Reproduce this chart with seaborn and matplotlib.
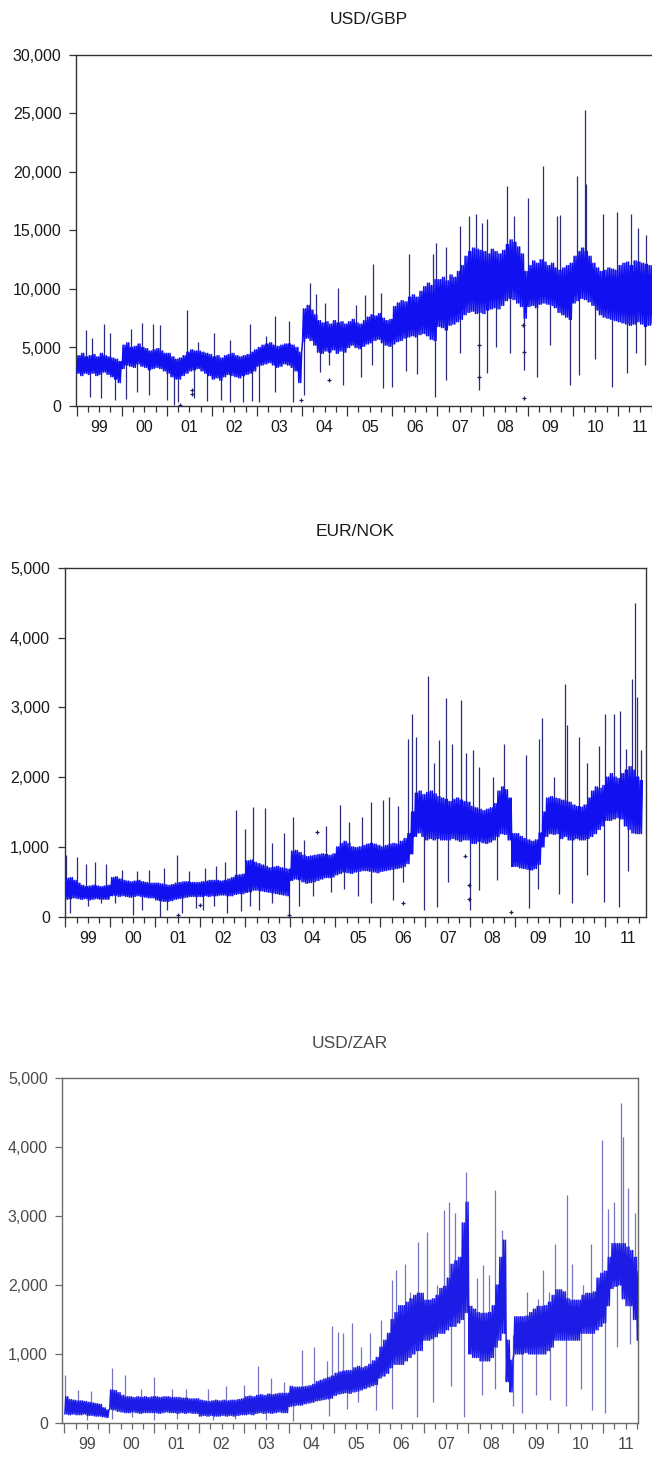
import numpy as np
import pandas as pd
import matplotlib
matplotlib.use("Agg")
import matplotlib.pyplot as plt
import seaborn as sns
from matplotlib.ticker import FuncFormatter

sns.set_theme(style="white")
plt.rcParams["font.family"] = ["Liberation Sans", "DejaVu Sans"]

# ---------------- data (monthly body range, Jan 1999 .. Oct 2011) ----------------
titles = ["USD/GBP", "EUR/NOK", "USD/ZAR"]
year_labels = ["99", "00", "01", "02", "03", "04", "05", "06", "07", "08", "09", "10", "11"]

gbp_lo = [2800, 2600, 2800, 2700, 2800, 2600, 2700, 2900, 2700, 2500, 2300, 2000,
          3200, 3500, 3400, 3300, 3600, 3400, 3300, 3100, 3200, 3300, 3200, 3000,
          2800, 2500, 2300, 2300, 2600, 2800, 3000, 3100, 3200, 3000, 2800, 2600,
          2300, 2400, 2200, 2500, 2700, 2600, 2500, 2400, 2600, 2700, 2800, 3000,
          3400, 3500, 3600, 3700, 3500, 3300, 3400, 3600, 3500, 3300, 3000, 2000,
          5500, 5800, 5600, 5200, 4600, 4500, 4700, 4600, 4800, 4500, 4700, 4600,
          5000, 5200, 5000, 4900, 5100, 5300, 5400, 5600, 5700, 5400, 5200, 5100,
          5300, 5500, 5600, 5800, 5900, 6000, 5900, 6100, 6200, 6000, 5700, 5600,
          6800, 6700, 6500, 6900, 7000, 7200, 7400, 7800, 8000, 8100, 7900, 8000,
          7900, 8200, 8300, 8400, 8300, 8600, 9000, 9200, 9100, 8800, 8500, 7500,
          8500, 8600, 8400, 8700, 8800, 8700, 8600, 8400, 8000, 7800, 7600, 7400,
          8800, 9000, 9200, 9100, 8900, 8600, 8200, 7800, 7600, 7500, 7400, 7300,
          7200, 7100, 7000, 6900, 7000, 7200, 7000, 6800, 6900, 7000]
gbp_hi = [4300, 4500, 4200, 4300, 4400, 4200, 4500, 4300, 4200, 4100, 4000, 3800,
          5200, 5400, 5000, 5100, 5300, 5000, 4900, 4700, 4800, 4900, 4700, 4500,
          4500, 4200, 4000, 4100, 4300, 4600, 4800, 4700, 4700, 4600, 4500, 4400,
          4200, 4300, 4100, 4300, 4400, 4500, 4300, 4200, 4300, 4400, 4600, 4800,
          5000, 5200, 5300, 5400, 5200, 5100, 5200, 5300, 5300, 5200, 5000, 4600,
          8300, 8600, 8200, 7800, 7300, 7100, 7200, 7000, 7300, 7100, 7200, 7000,
          7200, 7400, 7100, 7000, 7300, 7600, 7800, 7700, 7900, 7500, 7300, 7400,
          8500, 8800, 9000, 8900, 9300, 9500, 9300, 9800, 10200, 10500, 10300, 10800,
          10800, 11000, 10700, 11200, 11000, 11500, 12000, 12800, 13200, 13500, 13400, 13300,
          13200, 13000, 13400, 13200, 13000, 13300, 13800, 14200, 14000, 13600, 13000, 11500,
          12000, 12400, 12200, 12500, 12300, 12000, 12200, 11800, 11600, 11800, 12000, 12200,
          12800, 13200, 13500, 13200, 12800, 12200, 11800, 11500, 11600, 11800, 11700, 11600,
          12000, 12200, 12300, 12000, 12400, 12300, 12200, 12100, 12000, 12300]
gbp_up_t = [1999.2, 1999.35, 1999.6, 1999.75, 2000.2, 2000.45, 2000.7, 2000.85, 2001.45, 2001.7,
            2002.05, 2002.4, 2002.85, 2003.2, 2003.4, 2003.7, 2004.17, 2004.3, 2004.5, 2004.8,
            2005.2, 2005.4, 2005.57, 2005.75, 2006.36, 2006.9, 2006.98, 2007.2, 2007.5, 2007.7,
            2007.85, 2007.99, 2008.1, 2008.55, 2008.7, 2009.0, 2009.34, 2009.65, 2009.72, 2010.1,
            2010.27, 2010.29, 2010.67, 2010.98, 2011.29, 2011.45, 2011.62]
gbp_up_v = [6500, 5800, 7000, 6200, 6600, 7100, 7000, 6900, 8200, 5500,
            6200, 5600, 7000, 6000, 7700, 7300, 10500, 9600, 8800, 10100,
            8600, 9500, 12100, 9700, 13000, 13000, 13900, 13600, 15400, 16200,
            16400, 15600, 16000, 18800, 16200, 17800, 20500, 16200, 16300, 19700,
            25300, 19000, 16400, 16600, 16400, 15200, 14600]
gbp_dn_t = [1999.3, 1999.55, 1999.85, 2000.1, 2000.35, 2000.6, 2001.0, 2001.15, 2001.25, 2001.6,
            2001.9, 2002.2, 2002.4, 2002.7, 2002.9, 2003.05, 2003.4, 2003.8, 2004.05, 2004.4,
            2004.6, 2004.9, 2005.3, 2005.55, 2005.8, 2006.0, 2006.3, 2006.55, 2006.95, 2007.2,
            2007.5, 2007.93, 2008.1, 2008.3, 2008.6, 2008.93, 2009.2, 2009.5, 2009.94, 2010.15,
            2010.5, 2010.87, 2011.2, 2011.4, 2011.6]
gbp_dn_v = [800, 700, 500, 600, 1200, 900, 500, 100, 300, 700,
            400, 500, 300, 300, 400, 300, 1200, 300, 900, 2900,
            3500, 1800, 2500, 3500, 1500, 1650, 3000, 2700, 800, 2200,
            4500, 1370, 2800, 5000, 4500, 3080, 2500, 5200, 1800, 2650,
            4000, 1650, 2800, 4500, 3500]
gbp_dot_t = [2001.3, 2001.55, 2001.55, 2003.97, 2004.6, 2007.93, 2007.93, 2008.93, 2008.93, 2008.9]
gbp_dot_v = [100, 1000, 1400, 500, 2200, 2500, 5200, 700, 4600, 6900]

nok_lo = [250, 260, 270, 260, 250, 260, 240, 250, 260, 250, 250, 250,
          300, 310, 290, 300, 290, 280, 290, 300, 290, 280, 270, 270,
          240, 230, 220, 220, 230, 250, 260, 270, 280, 290, 290, 290,
          290, 300, 290, 300, 300, 310, 310, 300, 300, 320, 330, 330,
          350, 360, 380, 380, 370, 360, 350, 340, 330, 320, 310, 300,
          520, 540, 530, 500, 480, 490, 500, 520, 540, 560, 560, 570,
          600, 620, 640, 630, 620, 640, 650, 660, 660, 650, 640, 630,
          650, 660, 670, 680, 690, 700, 720, 760, 900, 1150, 1200, 1150,
          1100, 1120, 1100, 1120, 1100, 1100, 1100, 1120, 1100, 1080, 1100, 1100,
          1050, 1050, 1080, 1060, 1050, 1070, 1100, 1150, 1190, 1180, 1100, 720,
          720, 700, 690, 680, 670, 690, 750, 1000, 1150, 1190, 1180, 1190,
          1120, 1150, 1100, 1100, 1120, 1100, 1100, 1120, 1150, 1190, 1250, 1300,
          1380, 1380, 1400, 1420, 1400, 1300, 1250, 1200, 1190, 1190]
nok_hi = [550, 560, 520, 480, 450, 430, 440, 450, 440, 430, 440, 450,
          560, 570, 540, 520, 510, 500, 510, 520, 500, 490, 480, 480,
          480, 470, 460, 450, 460, 480, 490, 500, 500, 490, 490, 490,
          500, 510, 520, 520, 520, 510, 520, 540, 560, 590, 600, 610,
          800, 810, 780, 760, 740, 720, 700, 710, 720, 700, 690, 680,
          940, 950, 920, 880, 860, 870, 880, 890, 900, 890, 880, 900,
          1000, 1050, 1080, 1050, 1000, 990, 1000, 1020, 1040, 1050, 1040, 1020,
          1000, 1020, 1040, 1050, 1040, 1080, 1120, 1190, 1500, 1770, 1800, 1750,
          1780, 1800, 1760, 1720, 1700, 1680, 1650, 1680, 1700, 1670, 1650, 1640,
          1580, 1560, 1540, 1520, 1540, 1560, 1620, 1800, 1860, 1820, 1700, 1190,
          1190, 1150, 1120, 1100, 1080, 1100, 1200, 1500, 1700, 1720, 1700, 1690,
          1670, 1660, 1640, 1600, 1580, 1570, 1600, 1700, 1800, 1860, 1840, 1880,
          2000, 2050, 2000, 1980, 2050, 2100, 2150, 2100, 2000, 1950]
nok_up_t = [1999.02, 1999.25, 1999.45, 1999.65, 1999.9, 2000.25, 2000.6, 2000.85, 2001.2, 2001.48,
            2001.75, 2002.1, 2002.35, 2002.55, 2002.8, 2003.0, 2003.17, 2003.43, 2003.6, 2003.85,
            2004.07, 2004.3, 2004.8, 2005.1, 2005.3, 2005.6, 2005.8, 2006.05, 2006.2, 2006.4,
            2006.62, 2006.7, 2006.8, 2007.06, 2007.2, 2007.3, 2007.45, 2007.6, 2007.79, 2007.9,
            2008.05, 2008.2, 2008.5, 2008.75, 2009.23, 2009.52, 2009.6, 2009.85, 2010.1, 2010.15,
            2010.42, 2010.6, 2010.85, 2011.0, 2011.2, 2011.33, 2011.45, 2011.6, 2011.67, 2011.7,
            2011.8]
nok_up_v = [880, 860, 760, 780, 760, 670, 650, 670, 700, 880,
            650, 700, 720, 780, 1530, 1250, 1570, 1560, 1050, 1200,
            1430, 1100, 1300, 1600, 1350, 1430, 1650, 1670, 1720, 1580,
            2550, 2910, 2580, 3450, 2200, 2530, 3140, 2470, 3100, 2350,
            2390, 2150, 2000, 2480, 2320, 2550, 2840, 2000, 3330, 2750,
            2580, 2200, 2440, 2900, 2910, 2940, 2400, 3410, 4500, 3150,
            2390]
nok_dn_t = [1999.1, 1999.5, 1999.8, 2000.1, 2000.5, 2000.7, 2001.1, 2001.25, 2001.6, 2001.9,
            2002.05, 2002.3, 2002.6, 2002.9, 2003.1, 2003.3, 2003.6, 2003.97, 2004.2, 2004.5,
            2004.9, 2005.2, 2005.5, 2005.8, 2006.28, 2006.5, 2006.98, 2007.26, 2007.5, 2007.99,
            2008.2, 2008.6, 2009.3, 2009.5, 2009.98, 2010.25, 2010.6, 2010.97, 2011.31, 2011.5]
nok_dn_v = [60, 150, 200, 200, 30, 100, 0, 100, 50, 120,
            100, 150, 50, 80, 150, 100, 200, 0, 150, 300,
            350, 400, 300, 200, 240, 500, 100, 140, 500, 100,
            380, 530, 120, 400, 330, 190, 600, 215, 140, 650]
nok_dot_t = [2001.5, 2002.0, 2004.6, 2007.88, 2007.97, 2007.97, 2008.9, 2003.97, 2006.5]
nok_dot_v = [20, 170, 1220, 870, 260, 450, 70, 30, 200]

zar_lo = [130, 120, 130, 120, 120, 130, 110, 110, 100, 100, 90, 80,
          200, 190, 170, 160, 150, 150, 160, 150, 140, 150, 150, 150,
          150, 140, 150, 160, 150, 150, 140, 150, 140, 150, 140, 140,
          100, 110, 100, 110, 100, 100, 110, 100, 110, 100, 110, 120,
          120, 130, 120, 140, 150, 140, 150, 140, 150, 160, 150, 150,
          240, 250, 260, 260, 280, 290, 300, 320, 330, 340, 350, 360,
          400, 420, 430, 440, 430, 450, 460, 480, 500, 520, 540, 560,
          650, 680, 720, 800, 850, 850, 850, 900, 950, 1000, 1050, 1050,
          1200, 1200, 1220, 1250, 1300, 1300, 1350, 1400, 1400, 1450, 1500, 1600,
          1000, 950, 950, 900, 900, 900, 950, 1100, 1200, 1300, 600, 450,
          1000, 1000, 1000, 1020, 1000, 1000, 1000, 1000, 1000, 1050, 1100, 1200,
          1200, 1200, 1200, 1200, 1200, 1200, 1300, 1300, 1300, 1300, 1350, 1400,
          1450, 1700, 1950, 1980, 2000, 1800, 1700, 1700, 1500, 1200]
zar_hi = [380, 340, 330, 320, 320, 310, 300, 290, 280, 270, 220, 190,
          480, 470, 440, 400, 380, 380, 370, 380, 370, 380, 370, 380,
          380, 370, 380, 380, 370, 370, 370, 360, 360, 350, 350, 350,
          330, 320, 310, 320, 330, 320, 330, 320, 330, 330, 340, 350,
          380, 390, 380, 400, 410, 400, 420, 410, 420, 430, 430, 430,
          530, 520, 520, 520, 530, 540, 560, 600, 620, 640, 660, 680,
          720, 740, 750, 760, 760, 800, 820, 800, 820, 850, 900, 950,
          1100, 1200, 1300, 1500, 1600, 1700, 1700, 1750, 1800, 1850, 1880, 1880,
          1780, 1780, 1800, 1850, 1950, 1980, 2100, 2300, 2350, 2400, 2900, 3200,
          1690, 1650, 1600, 1590, 1590, 1600, 1700, 2000, 2400, 2650, 1200, 910,
          1540, 1540, 1540, 1550, 1600, 1650, 1690, 1690, 1700, 1750, 1850, 1930,
          1930, 1900, 1800, 1780, 1780, 1780, 1850, 1880, 1880, 1900, 2100, 2170,
          2200, 2400, 2600, 2600, 2600, 2600, 2550, 2500, 2400, 2200]
zar_up_t = [1999.02, 1999.3, 1999.6, 2000.05, 2000.35, 2000.7, 2001.0, 2001.4, 2001.7, 2002.2,
            2002.6, 2003.0, 2003.32, 2003.6, 2003.9, 2004.3, 2004.57, 2004.85, 2004.95, 2005.1,
            2005.2, 2005.4, 2005.6, 2005.8, 2006.05, 2006.3, 2006.38, 2006.58, 2006.7, 2006.87,
            2007.07, 2007.3, 2007.45, 2007.56, 2007.7, 2007.95, 2008.2, 2008.33, 2008.45, 2008.6,
            2008.75, 2009.3, 2009.55, 2009.67, 2009.8, 2009.92, 2010.2, 2010.3, 2010.55, 2010.72,
            2010.97, 2011.1, 2011.25, 2011.4, 2011.45, 2011.55, 2011.7]
zar_up_v = [700, 480, 470, 790, 700, 500, 670, 500, 500, 500,
            530, 550, 820, 650, 600, 1060, 1100, 900, 1400, 1320,
            1300, 1450, 1100, 1300, 1500, 2070, 2220, 2310, 1900, 2630,
            2770, 2000, 3090, 3210, 3040, 3640, 2100, 2290, 2150, 3380,
            2800, 1900, 1800, 2220, 1900, 2600, 3300, 2310, 2000, 2600,
            4100, 3100, 3200, 4640, 4150, 3400, 3040]
zar_dn_t = [1999.5, 2000.05, 2000.5, 2001.0, 2001.5, 2002.3, 2002.8, 2003.5, 2004.1, 2004.9,
            2005.3, 2005.55, 2005.95, 2006.3, 2006.85, 2007.2, 2007.6, 2007.9, 2008.3, 2008.6,
            2009.0, 2009.2, 2009.5, 2009.82, 2010.18, 2010.5, 2010.75, 2011.05, 2011.3, 2011.6]
zar_dn_v = [50, 60, 80, 50, 60, 40, 60, 50, 30, 100,
            200, 300, 190, 200, 90, 300, 530, 90, 400, 500,
            240, 140, 400, 330, 240, 500, 190, 140, 1100, 1150]

# ---------------- layout (pixel geometry of the reference) ----------------
FIG_W, FIG_H = 652, 1457
panels = [
    dict(title=titles[0], lo=gbp_lo, hi=gbp_hi, up=(gbp_up_t, gbp_up_v), dn=(gbp_dn_t, gbp_dn_v),
         dots=(gbp_dot_t, gbp_dot_v), L=76, R=662, T=55, B=406, P0=76.6, S=45.1,
         ymax=30000, ystep=5000, title_y=19.5, body="#1010f0", spike="#2b2b80",
         text="#1a1a1a", spine="#333333"),
    dict(title=titles[1], lo=nok_lo, hi=nok_hi, up=(nok_up_t, nok_up_v), dn=(nok_dn_t, nok_dn_v),
         dots=(nok_dot_t, nok_dot_v), L=64.5, R=646, T=567.7, B=916.7, P0=65.3, S=45.0,
         ymax=5000, ystep=1000, title_y=531.7, body="#1010f0", spike="#2b2b80",
         text="#1a1a1a", spine="#333333"),
    dict(title=titles[2], lo=zar_lo, hi=zar_hi, up=(zar_up_t, zar_up_v), dn=(zar_dn_t, zar_dn_v),
         dots=None, L=62.4, R=638, T=1078, B=1423, P0=64.4, S=44.9,
         ymax=5000, ystep=1000, title_y=1043, body="#1c1ce6", spike="#7676c0",
         text="#4a4a4a", spine="#6a6a6a"),
]

fig = plt.figure(figsize=(FIG_W / 100, FIG_H / 100), dpi=100)
fig.patch.set_facecolor("white")

comma = FuncFormatter(lambda v, p: f"{int(v):,}")

for p in panels:
    ax = fig.add_axes([p["L"] / FIG_W, 1 - p["B"] / FIG_H,
                       (p["R"] - p["L"]) / FIG_W, (p["B"] - p["T"]) / FIG_H])
    x0 = 1999 + (p["L"] - p["P0"]) / p["S"]
    x1 = 1999 + (p["R"] - p["P0"]) / p["S"]

    lo, hi = p["lo"], p["hi"]
    n = len(lo)
    # dense trace: each month swings twice between its low and high readings
    t, v = [], []
    for m in range(n):
        for k, val in enumerate((lo[m], hi[m], lo[m], hi[m])):
            t.append(1999 + (m + (k + 0.5) / 4) / 12)
            v.append(val)
    df = pd.DataFrame({"t": t, "v": v})

    # spikes from the month's body toward the extreme reading
    ut, uv = p["up"]
    dt, dv = p["dn"]

    def mid(a):
        i = min(int((a - 1999) * 12), n - 1)
        return (lo[i] + hi[i]) / 2

    ax.vlines(ut, [mid(a) for a in ut], uv, color=p["spike"], lw=0.9, zorder=2)
    ax.vlines(dt, dv, [mid(a) for a in dt], color=p["spike"], lw=0.9, zorder=2)

    sns.lineplot(data=df, x="t", y="v", ax=ax, color=p["body"], lw=1.1,
                 estimator=None, sort=False, zorder=3)
    if p["dots"] is not None:
        ax.scatter(p["dots"][0], p["dots"][1], marker="+", s=9, color="#202060", lw=0.9, zorder=4)

    ax.set_xlim(x0, x1)
    ax.set_ylim(0, p["ymax"])
    ax.set_xlabel("")
    ax.set_ylabel("")

    # y axis
    ax.set_yticks(np.arange(0, p["ymax"] + 1, p["ystep"]))
    ax.yaxis.set_major_formatter(comma)
    ax.tick_params(axis="y", which="major", direction="out", length=5, width=0.9,
                   pad=5.5, labelsize=11.5, colors=p["spine"], labelcolor=p["text"], left=True)

    # x axis: year boundaries (long), quarters (short), labels at mid-year
    years = np.arange(1999, 2012)
    ax.set_xticks(years)
    ax.set_xticklabels([""] * len(years))
    minor_pos, minor_lab = [], []
    for i, y in enumerate(years):
        for q, lab in ((0.25, ""), (0.5, year_labels[i]), (0.75, "")):
            minor_pos.append(y + q)
            minor_lab.append(lab)
    ax.set_xticks(minor_pos, minor=True)
    ax.set_xticklabels(minor_lab, minor=True)
    ax.tick_params(axis="x", which="major", direction="out", length=7.5, width=0.9,
                   colors=p["spine"], bottom=True)
    ax.tick_params(axis="x", which="minor", direction="out", length=4, width=0.9,
                   pad=6, labelsize=11.5, colors=p["spine"], labelcolor=p["text"], bottom=True)

    for s in ax.spines.values():
        s.set_visible(True)
        s.set_color(p["spine"])
        s.set_linewidth(1.0)
    ax.grid(False)
    ax.set_facecolor("white")

    fig.text(((p["L"] + p["R"]) / 2) / FIG_W, 1 - p["title_y"] / FIG_H, p["title"],
             ha="center", va="center", fontsize=12.5, color=p["text"])

fig.savefig("out.png", dpi=100, facecolor="white")
